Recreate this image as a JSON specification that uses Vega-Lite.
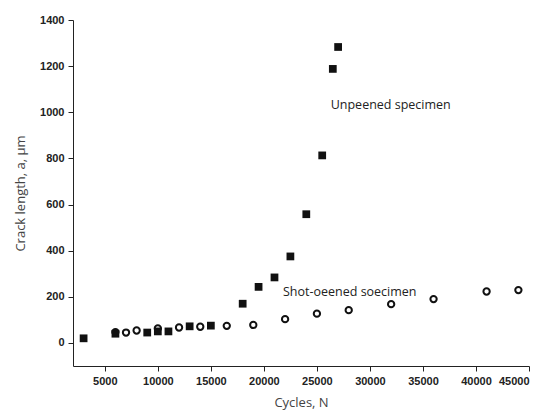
{
  "$schema": "https://vega.github.io/schema/vega-lite/v6.json",
  "autosize": "none",
  "padding": {"left": 73, "top": 20, "right": 15, "bottom": 48},
  "width": 456,
  "height": 346,
  "background": "white",
  "config": {
    "view": {"stroke": null},
    "axis": {"grid": false, "domainColor": "#222222", "tickColor": "#222222", "labelFont": "Liberation Sans", "labelFontWeight": "bold", "labelFontSize": 11, "labelColor": "#222222", "titleFont": "Open Sans", "titleFontWeight": "normal", "titleFontSize": 13, "titleColor": "#444444"}
  },
  "datasets": {
    "unpeened": [
      {"cycles": 3000, "crack": 20},
      {"cycles": 6000, "crack": 40},
      {"cycles": 9000, "crack": 45},
      {"cycles": 10000, "crack": 50},
      {"cycles": 11000, "crack": 50},
      {"cycles": 13000, "crack": 72},
      {"cycles": 15000, "crack": 75},
      {"cycles": 18000, "crack": 170},
      {"cycles": 19500, "crack": 243},
      {"cycles": 21000, "crack": 284},
      {"cycles": 22500, "crack": 375},
      {"cycles": 24000, "crack": 558},
      {"cycles": 25500, "crack": 813},
      {"cycles": 26500, "crack": 1188},
      {"cycles": 27000, "crack": 1283}
    ],
    "peened": [
      {"cycles": 6000, "crack": 47},
      {"cycles": 7000, "crack": 45},
      {"cycles": 8000, "crack": 54},
      {"cycles": 10000, "crack": 63},
      {"cycles": 12000, "crack": 67},
      {"cycles": 14000, "crack": 70},
      {"cycles": 16500, "crack": 74},
      {"cycles": 19000, "crack": 78},
      {"cycles": 22000, "crack": 103},
      {"cycles": 25000, "crack": 127},
      {"cycles": 28000, "crack": 142},
      {"cycles": 32000, "crack": 168},
      {"cycles": 36000, "crack": 190},
      {"cycles": 41000, "crack": 223},
      {"cycles": 44000, "crack": 229}
    ],
    "labels": [
      {"cycles": 26300, "crack": 1030, "text": "Unpeened specimen"},
      {"cycles": 21800, "crack": 222, "text": "Shot-oeened soecimen"}
    ]
  },
  "layer": [
    {
      "data": {"name": "peened"},
      "mark": {"type": "point", "shape": "circle", "filled": false, "stroke": "#111111", "strokeWidth": 2, "size": 40, "opacity": 1},
      "encoding": {
        "x": {"field": "cycles", "type": "quantitative", "scale": {"domain": [2000, 45000], "nice": false, "zero": false},
          "axis": {"title": "Cycles, N", "values": [5000, 10000, 15000, 20000, 25000, 30000, 35000, 40000, 45000], "format": "d", "tickSize": 5, "labelPadding": 4, "titlePadding": 10}},
        "y": {"field": "crack", "type": "quantitative", "scale": {"domain": [-100, 1400], "nice": false, "zero": false},
          "axis": {"title": "Crack length, a, µm", "values": [0, 200, 400, 600, 800, 1000, 1200, 1400], "format": "d", "tickSize": 5, "labelPadding": 4, "titlePadding": 12}}
      }
    },
    {
      "data": {"name": "unpeened"},
      "mark": {"type": "point", "shape": "square", "filled": true, "color": "#111111", "size": 60, "opacity": 1},
      "encoding": {
        "x": {"field": "cycles", "type": "quantitative"},
        "y": {"field": "crack", "type": "quantitative"}
      }
    },
    {
      "data": {"name": "labels"},
      "mark": {"type": "text", "align": "left", "baseline": "middle", "font": "Open Sans", "fontSize": 12.5, "color": "#222222"},
      "encoding": {
        "x": {"field": "cycles", "type": "quantitative"},
        "y": {"field": "crack", "type": "quantitative"},
        "text": {"field": "text"}
      }
    }
  ]
}
